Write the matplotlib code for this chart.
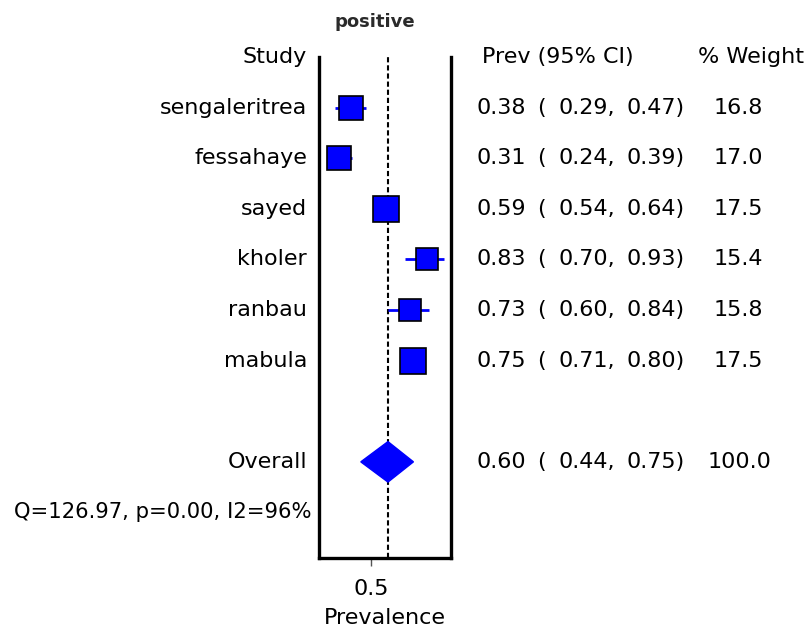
import matplotlib
matplotlib.use("Agg")
import matplotlib.pyplot as plt
from matplotlib.transforms import blended_transform_factory
from matplotlib.patches import Polygon

studies = ["sengaleritrea", "fessahaye", "sayed", "kholer", "ranbau", "mabula"]
prev = [0.38, 0.31, 0.59, 0.83, 0.73, 0.75]
lo = [0.29, 0.24, 0.54, 0.70, 0.60, 0.71]
hi = [0.47, 0.39, 0.64, 0.93, 0.84, 0.80]
weights = [16.8, 17.0, 17.5, 15.4, 15.8, 17.5]
overall = (0.60, 0.44, 0.75)
overall_weight = 100.0
het_text = "Q=126.97, p=0.00, I2=96%"
title = "positive"
xticks = [0.5]
xlabel = "Prevalence"

plt.rcParams['font.family'] = ['DejaVu Sans']
W, H = 810, 629
fig = plt.figure(figsize=(W / 100, H / 100), dpi=100)

def fx(px):
    return px / W

ax = fig.add_axes([fx(319), 1 - 558 / H, fx(451 - 319), (558 - 57) / H])
ax.set_xlim(0.194, 0.971)
ax.set_ylim(9.9, 0)

fs = 16
ax.spines['top'].set_visible(False)
for s in ['left', 'right', 'bottom']:
    ax.spines[s].set_linewidth(2.4)
ax.set_yticks([])
ax.set_xticks(xticks)
ax.set_xticklabels([f"{t:.1f}" for t in xticks], fontsize=fs)
ax.tick_params(axis='x', length=6, width=1, color='#555555', pad=9)
ax.set_xlabel(xlabel, fontsize=fs, labelpad=6.5)

ax.axvline(overall[0], color='black', linestyle=(0, (2.5, 1.4)), linewidth=1.5, zorder=1)

tr = blended_transform_factory(fig.transFigure, ax.transData)

def ci_row(y, p, l, h):
    fig.text(fx(476), y, f"{p:.2f}", transform=tr, ha='left', va='center', fontsize=fs)
    fig.text(fx(537), y, "(", transform=tr, ha='left', va='center', fontsize=fs)
    fig.text(fx(559), y, f"{l:.2f},", transform=tr, ha='left', va='center', fontsize=fs)
    fig.text(fx(626), y, f"{h:.2f})", transform=tr, ha='left', va='center', fontsize=fs)

for i, (name, p, l, h, w) in enumerate(zip(studies, prev, lo, hi, weights)):
    y = i + 1
    ax.plot([l, h], [y, y], color='blue', linewidth=2.0, zorder=2, solid_capstyle='butt')
    side = 1.45 * w * 0.72  # pixels -> points at 100 dpi
    ax.plot([p], [y], marker='s', markersize=side, markerfacecolor='blue',
            markeredgecolor='black', markeredgewidth=1.2, zorder=3, linestyle='none')
    fig.text(fx(307), y, name, transform=tr, ha='right', va='center', fontsize=fs)
    ci_row(y, p, l, h)
    fig.text(fx(738), y, f"{w:.1f}", transform=tr, ha='center', va='center', fontsize=fs)

yo = 8
op, ol, oh = overall
dia = Polygon([[ol, yo], [op, yo - 0.4], [oh, yo], [op, yo + 0.4]], closed=True,
              facecolor='blue', edgecolor='blue', zorder=3)
ax.add_patch(dia)
fig.text(fx(307), yo, "Overall", transform=tr, ha='right', va='center', fontsize=fs)
ci_row(yo, op, ol, oh)
fig.text(fx(739), yo, f"{overall_weight:.1f}", transform=tr, ha='center', va='center', fontsize=fs)

fig.text(fx(307), 0, "Study", transform=tr, ha='right', va='center', fontsize=fs)
fig.text(fx(558), 0, "Prev (95% CI)", transform=tr, ha='center', va='center', fontsize=fs)
fig.text(fx(751), 0, "% Weight", transform=tr, ha='center', va='center', fontsize=fs)
fig.text(fx(312), 9, het_text, transform=tr, ha='right', va='center', fontsize=15.2)

fig.text(fx(375), 1 - 22 / H, title, ha='center', va='center', fontsize=13,
         fontweight='bold', color='#2a2a2a')

fig.savefig("out.png", dpi=100)
